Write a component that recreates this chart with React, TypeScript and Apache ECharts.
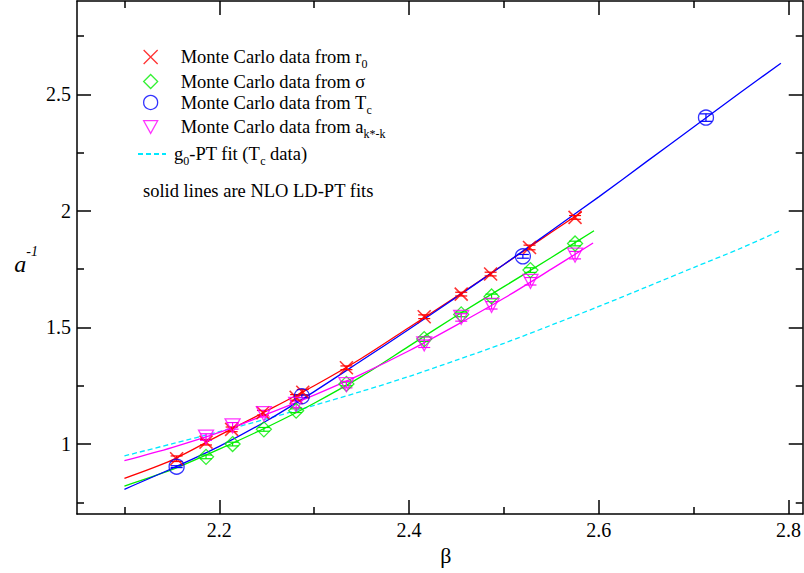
import { useEffect, useRef } from 'react';
import * as echarts from 'echarts';

const FONT = '"Liberation Serif", "Times New Roman", serif';

// Axis ranges and ticks
const X_MIN = 2.05;
const X_MAX = 2.815;
const Y_MIN = 0.7;
const Y_MAX = 2.9;
const X_MAJOR = [2.2, 2.4, 2.6, 2.8];
const X_MINOR = [2.1, 2.3, 2.5, 2.7];
const Y_MAJOR = [1, 1.5, 2, 2.5];
const Y_MINOR = [0.75, 1.25, 1.75, 2.25, 2.75];

// Monte Carlo data from r0
const R0_BETA = [2.155, 2.186, 2.213, 2.246, 2.281, 2.288, 2.334, 2.416, 2.455, 2.486, 2.527, 2.575];
const R0_VAL = [0.937, 1.008, 1.063, 1.134, 1.2, 1.222, 1.327, 1.546, 1.643, 1.729, 1.843, 1.972];
const R0_ERR = [0.012, 0.012, 0.01, 0.01, 0.012, 0.012, 0.008, 0.008, 0.008, 0.008, 0.01, 0.008];

// Monte Carlo data from sigma
const S_BETA = [2.186, 2.214, 2.247, 2.281, 2.334, 2.416, 2.455, 2.487, 2.528, 2.575];
const S_VAL = [0.945, 1.0, 1.063, 1.143, 1.258, 1.45, 1.556, 1.633, 1.746, 1.86];
const S_ERR = [0.008, 0.008, 0.008, 0.008, 0.008, 0.01, 0.01, 0.01, 0.01, 0.01];

// Monte Carlo data from Tc
const T_BETA = [2.155, 2.287, 2.52, 2.713];
const T_VAL = [0.903, 1.205, 1.805, 2.4];
const T_ERR = [0.004, 0.006, 0.008, 0.016];

// Monte Carlo data from a_{k*-k}
const A_BETA = [2.186, 2.214, 2.247, 2.281, 2.334, 2.416, 2.455, 2.487, 2.528, 2.575];
const A_VAL = [1.03, 1.078, 1.13, 1.17, 1.255, 1.43, 1.543, 1.595, 1.698, 1.81];
const A_ERR = [0.014, 0.014, 0.014, 0.014, 0.014, 0.016, 0.016, 0.016, 0.016, 0.016];

// Fit curves
const RF_BETA = [2.1, 2.15, 2.2, 2.25, 2.3, 2.35, 2.4, 2.45, 2.5, 2.55, 2.582];
const RF_VAL = [0.853, 0.931, 1.037, 1.142, 1.25, 1.368, 1.5, 1.633, 1.77, 1.908, 1.995];

const BF_BETA = [2.1, 2.15, 2.2, 2.25, 2.3, 2.35, 2.4, 2.45, 2.5, 2.55, 2.6, 2.65, 2.7, 2.75, 2.792];
const BF_VAL = [0.806, 0.895, 0.99, 1.1, 1.225, 1.358, 1.492, 1.63, 1.77, 1.915, 2.06, 2.21, 2.36, 2.51, 2.633];

const GF_BETA = [2.1, 2.15, 2.2, 2.25, 2.3, 2.35, 2.4, 2.45, 2.5, 2.55, 2.595];
const GF_VAL = [0.82, 0.89, 0.978, 1.072, 1.175, 1.29, 1.42, 1.55, 1.675, 1.8, 1.915];

const MF_BETA = [2.1, 2.15, 2.2, 2.25, 2.3, 2.35, 2.4, 2.45, 2.5, 2.55, 2.594];
const MF_VAL = [0.929, 0.985, 1.05, 1.128, 1.21, 1.3, 1.4, 1.51, 1.625, 1.75, 1.862];

const CF_BETA = [2.1, 2.15, 2.2, 2.25, 2.3, 2.35, 2.4, 2.45, 2.5, 2.55, 2.6, 2.65, 2.7, 2.75, 2.792];
const CF_VAL = [0.949, 1.001, 1.053, 1.108, 1.166, 1.226, 1.29, 1.36, 1.432, 1.51, 1.59, 1.673, 1.757, 1.84, 1.917];

const NAME_R0 = 'Monte Carlo data from r0';
const NAME_S = 'Monte Carlo data from σ';
const NAME_T = 'Monte Carlo data from Tc';
const NAME_A = 'Monte Carlo data from ak*-k';
const NAME_G = 'g0-PT fit (Tc data)';

const LEGEND_LABELS: Record<string, string> = {
  [NAME_R0]: 'Monte Carlo data from r{sub|0}',
  [NAME_S]: 'Monte Carlo data from σ',
  [NAME_T]: 'Monte Carlo data from T{sub|c}',
  [NAME_A]: 'Monte Carlo data from a{sub|k*-k}',
  [NAME_G]: 'g{sub|0}-PT fit (T{sub|c} data)',
};

const RED = '#ff0000';
const GREEN = '#00ee00';
const BLUE = '#0000ff';
const MAGENTA = '#ff00ff';
const CYAN = '#00e8ff';

const CROSS = 'path://M0,0L10,10M10,0L0,10';
const TRI_DOWN = 'path://M0,0L10,0L5,9Z';

const zip = (a: number[], b: number[]) => a.map((v, i) => [v, b[i]]);

const AXIS_LINE = { show: true, onZero: false, lineStyle: { color: '#000', width: 1.5 } };
const TICK_STYLE = { color: '#000', width: 1.5 };

function scatter(name: string, beta: number[], vals: number[], symbol: string, color: string, size: any, width = 1.3) {
  return {
    type: 'scatter',
    name,
    data: zip(beta, vals),
    symbol,
    symbolSize: size,
    itemStyle: { color: 'transparent', borderColor: color, borderWidth: width },
    z: 5,
  };
}

function errorBars(beta: number[], vals: number[], errs: number[], color: string) {
  return {
    type: 'custom',
    silent: true,
    z: 4,
    data: beta.map((b, i) => [b, vals[i], errs[i]]),
    encode: { x: 0, y: 1 },
    renderItem: (_params: any, api: any) => {
      const x = api.value(0);
      const y = api.value(1);
      const e = api.value(2);
      const top = api.coord([x, y + e]);
      const bot = api.coord([x, y - e]);
      const hw = 6;
      const style = { stroke: color, lineWidth: 1.2 };
      return {
        type: 'group',
        children: [
          { type: 'line', shape: { x1: top[0], y1: top[1], x2: bot[0], y2: bot[1] }, style },
          { type: 'line', shape: { x1: top[0] - hw, y1: top[1], x2: top[0] + hw, y2: top[1] }, style },
          { type: 'line', shape: { x1: bot[0] - hw, y1: bot[1], x2: bot[0] + hw, y2: bot[1] }, style },
        ],
      };
    },
  };
}

function fitLine(name: string, beta: number[], vals: number[], color: string, dashed = false) {
  return {
    type: 'line',
    name,
    data: zip(beta, vals),
    smooth: 0.3,
    symbol: 'none',
    showSymbol: false,
    lineStyle: { color, width: 1.3, type: dashed ? [5, 3] : 'solid' },
    itemStyle: { color },
    z: 2,
    silent: true,
  };
}

const legendText = {
  fontSize: 18.5,
  fontFamily: FONT,
  color: '#000',
  rich: {
    sub: { fontSize: 12, fontFamily: FONT, color: '#000', padding: [14, 0, 0, 0] },
  },
};

const xBase = { type: 'value', min: X_MIN, max: X_MAX, splitLine: { show: false } };
const yBase = { type: 'value', min: Y_MIN, max: Y_MAX, splitLine: { show: false } };
const tickLabel = { color: '#000', fontSize: 20, fontFamily: FONT, fontWeight: 'normal' };

const option: any = {
  animation: false,
  backgroundColor: '#fff',
  textStyle: { fontFamily: FONT, color: '#000' },
  grid: { left: 77, right: 1, top: 1, bottom: 59, containLabel: false },
  xAxis: [
    {
      ...xBase,
      position: 'bottom',
      axisLine: AXIS_LINE,
      axisTick: { show: true, inside: true, length: 14, customValues: X_MAJOR, lineStyle: TICK_STYLE },
      axisLabel: { show: true, customValues: X_MAJOR, margin: 6, ...tickLabel },
      name: 'β',
      nameLocation: 'middle',
      nameGap: 26,
      nameTextStyle: { fontSize: 22, fontFamily: FONT, color: '#000', padding: [0, 0, 0, 12] },
    },
    {
      ...xBase,
      position: 'bottom',
      axisLine: { show: false },
      axisTick: { show: true, inside: true, length: 7, customValues: X_MINOR, lineStyle: TICK_STYLE },
      axisLabel: { show: false },
    },
    {
      ...xBase,
      position: 'top',
      axisLine: AXIS_LINE,
      axisTick: { show: true, inside: true, length: 14, customValues: X_MAJOR, lineStyle: TICK_STYLE },
      axisLabel: { show: false },
    },
    {
      ...xBase,
      position: 'top',
      axisLine: { show: false },
      axisTick: { show: true, inside: true, length: 7, customValues: X_MINOR, lineStyle: TICK_STYLE },
      axisLabel: { show: false },
    },
  ],
  yAxis: [
    {
      ...yBase,
      position: 'left',
      axisLine: AXIS_LINE,
      axisTick: { show: true, inside: true, length: 14, customValues: Y_MAJOR, lineStyle: TICK_STYLE },
      axisLabel: { show: true, customValues: Y_MAJOR, margin: 6, ...tickLabel },
      name: '{a|a}{s|-1}',
      nameLocation: 'middle',
      nameRotate: 0,
      nameGap: 39,
      nameTextStyle: {
        color: '#000',
        fontFamily: FONT,
        padding: [13, 0, 0, 0],
        rich: {
          a: { fontSize: 24, fontStyle: 'italic', fontFamily: FONT, color: '#000' },
          s: { fontSize: 14, fontStyle: 'italic', fontFamily: FONT, color: '#000', padding: [0, 0, 26, 0] },
        },
      },
    },
    {
      ...yBase,
      position: 'left',
      axisLine: { show: false },
      axisTick: { show: true, inside: true, length: 7, customValues: Y_MINOR, lineStyle: TICK_STYLE },
      axisLabel: { show: false },
    },
    {
      ...yBase,
      position: 'right',
      axisLine: AXIS_LINE,
      axisTick: { show: true, inside: true, length: 14, customValues: Y_MAJOR, lineStyle: TICK_STYLE },
      axisLabel: { show: false },
    },
    {
      ...yBase,
      position: 'right',
      axisLine: { show: false },
      axisTick: { show: true, inside: true, length: 7, customValues: Y_MINOR, lineStyle: TICK_STYLE },
      axisLabel: { show: false },
    },
  ],
  legend: [
    {
      orient: 'vertical',
      left: 143,
      top: 47.5,
      padding: 0,
      itemWidth: 14,
      itemHeight: 14,
      itemGap: 2,
      selectedMode: false,
      data: [NAME_R0, NAME_S, NAME_T, NAME_A],
      formatter: (n: string) => LEGEND_LABELS[n] || n,
      itemStyle: { borderWidth: 1.3 },
      textStyle: { ...legendText, padding: [0, 0, 0, 18] },
    },
    {
      orient: 'vertical',
      left: 137,
      top: 144.5,
      padding: 0,
      itemWidth: 28,
      itemHeight: 14,
      selectedMode: false,
      data: [NAME_G],
      formatter: (n: string) => LEGEND_LABELS[n] || n,
      itemStyle: { color: 'transparent', borderColor: 'transparent', borderWidth: 0, opacity: 0 },
      textStyle: { ...legendText, padding: [0, 0, 0, 3] },
    },
  ],
  graphic: [
    {
      type: 'text',
      left: 143,
      top: 181,
      style: { text: 'solid lines are NLO LD-PT fits', fontSize: 18.5, fontFamily: FONT, fill: '#000' },
    },
  ],
  series: [
    fitLine(NAME_G, CF_BETA, CF_VAL, CYAN, true),
    fitLine('fit r0', RF_BETA, RF_VAL, RED),
    fitLine('fit sigma', GF_BETA, GF_VAL, GREEN),
    fitLine('fit ak', MF_BETA, MF_VAL, MAGENTA),
    fitLine('fit Tc', BF_BETA, BF_VAL, BLUE),
    errorBars(R0_BETA, R0_VAL, R0_ERR, RED),
    errorBars(S_BETA, S_VAL, S_ERR, GREEN),
    errorBars(T_BETA, T_VAL, T_ERR, BLUE),
    errorBars(A_BETA, A_VAL, A_ERR, MAGENTA),
    scatter(NAME_R0, R0_BETA, R0_VAL, CROSS, RED, 13, 1.6),
    scatter(NAME_S, S_BETA, S_VAL, 'diamond', GREEN, 15),
    scatter(NAME_T, T_BETA, T_VAL, 'circle', BLUE, 15),
    scatter(NAME_A, A_BETA, A_VAL, TRI_DOWN, MAGENTA, [15, 14]),
  ],
};

export default function App() {
  const ref = useRef<HTMLDivElement>(null);
  useEffect(() => {
    if (!ref.current) return;
    const chart = echarts.init(ref.current, null, { renderer: 'svg' });
    chart.setOption(option);
    return () => chart.dispose();
  }, []);
  return (
    <div
      ref={ref}
      style={{ position: 'fixed', left: 0, top: 0, width: 804, height: 573, background: '#fff' }}
    />
  );
}
